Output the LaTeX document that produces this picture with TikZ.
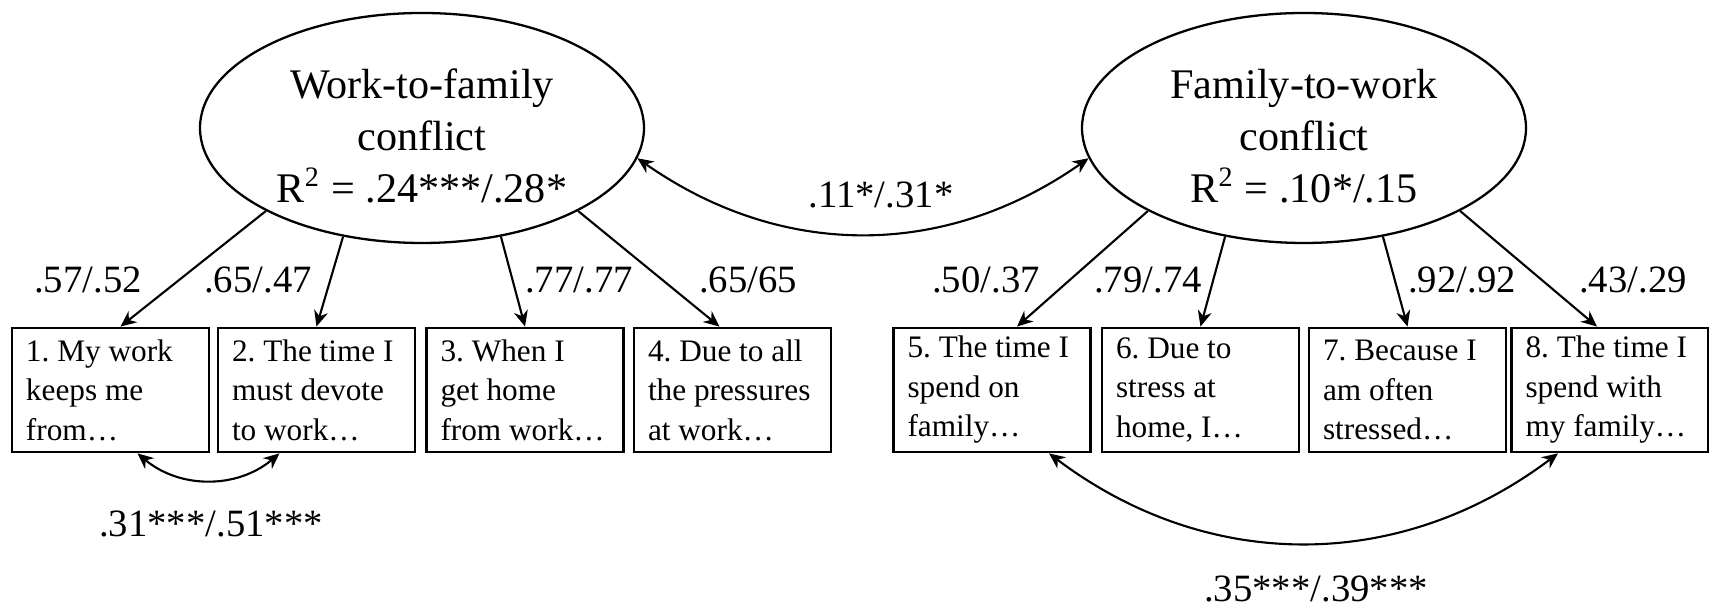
\documentclass[tikz,border=0pt]{standalone}
\usepackage{fontspec}
\setmainfont{Liberation Serif}
\usetikzlibrary{arrows.meta,shapes.geometric}
\begin{document}
\begin{tikzpicture}[>={Stealth[length=4.5pt,width=4pt]}, line width=0.6pt,
 latent/.style={draw,ellipse,line width=0.65pt,minimum width=4.44cm,minimum height=2.3cm,inner sep=0pt,align=center,font=\fontsize{12}{14.8}\selectfont},
 item/.style={draw,rectangle,line width=0.8pt,minimum width=1.97cm,minimum height=1.24cm,inner xsep=0.14cm,inner ysep=0pt,text width=1.69cm,align=flush left,font=\fontsize{8.9}{11.24}\selectfont\frenchspacing},
 coef/.style={anchor=base,inner sep=0pt,font=\fontsize{11}{13}\selectfont}]
\useasboundingbox (0,0) rectangle (17.09,6.07);
% hai bien tiem an
\node[latent] (wf) at (4.22,4.79) {\rule{0pt}{0.45cm}Work-to-family\\conflict\\R\textsuperscript{2} = .24***/.28*};
\node[latent] (fw) at (13.04,4.79) {\rule{0pt}{0.45cm}Family-to-work\\conflict\\R\textsuperscript{2} = .10*/.15};
% cac bien quan sat
\foreach \i/\x/\t in {1/1.105/{1. My work\\keeps me\\from…}, 2/3.165/{2. The time I\\must devote\\to work…},
 3/5.25/{3. When I\\get home\\from work…}, 4/7.325/{4. Due to all\\the pressures\\at work…},
 5/9.92/{5. The time I\\spend on\\family…}, 6/12.005/{6. Due to\\stress at\\home, I…},
 7/14.075/{7. Because I\\am often\\stressed…}, 8/16.10/{8. The time I\\spend with\\my family…}}
\node[item] (b\i) at (\x,2.17) {\t};
% he so tai
\foreach \e/\a/\i/\s in {wf/208/1/0.1, wf/234/2/0, wf/306/3/0, wf/332/4/-0.13,
 fw/208/5/0.25, fw/234/6/0, fw/306/7/0, fw/332/8/-0.13}
\draw[->] (\e.\a) -- ([xshift=\s cm]b\i.north);
\foreach \i/\x/\t in {1/0.88/{.57/.52}, 2/2.58/{.65/.47}, 3/5.79/{.77/.77}, 4/7.48/{.65/65},
 5/9.86/{.50/.37}, 6/11.48/{.79/.74}, 7/14.62/{.92/.92}, 8/16.33/{.43/.29}}
\node[coef] (c\i) at (\x,3.14) {\t};
% hiep phuong sai
\draw[<->] (wf.352) to[bend right=35] (fw.188);
\node[coef] (r12) at (8.81,3.99) {.11*/.31*};
\draw[<->] ([xshift=0.27cm]b1.south) to[bend right=40] ([xshift=-0.37cm]b2.south);
\node[coef] (e12) at (2.11,0.70) {.31***/.51***};
\draw[<->] ([xshift=0.57cm]b5.south) to[bend right=37] ([xshift=-0.52cm]b8.south);
\node[coef] (e58) at (13.16,0.05) {.35***/.39***};
\end{tikzpicture}
\end{document}
